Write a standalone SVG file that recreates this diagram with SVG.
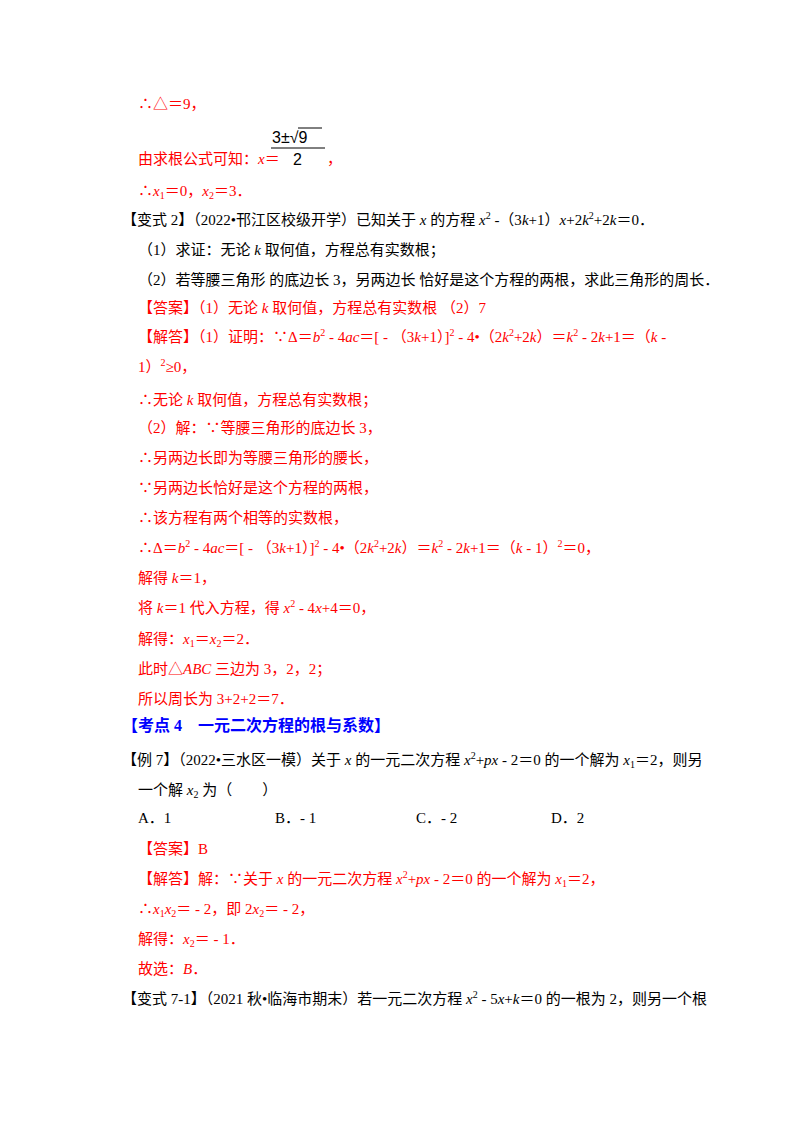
<svg xmlns="http://www.w3.org/2000/svg" width="800" height="1132" viewBox="0 0 800 1132">
<style>
text{font-family:"Liberation Serif","Noto Sans CJK SC",serif;font-size:15px;fill:#000}
.r{fill:#ff0000}
.b{fill:#0000ff;font-weight:bold;font-size:16px}
.i{font-style:italic}
.s{font-size:10px}
.f{font-family:"Liberation Sans",sans-serif;font-size:16px}
</style>
<rect width="800" height="1132" fill="#fff"/>
<text class="r" x="138" y="109">∴△＝9，</text>
<text class="f" x="272" y="143">3±√9</text>
<line x1="271" y1="148" x2="325" y2="148" stroke="#000" stroke-width="1"/>
<line x1="298" y1="128" x2="322" y2="128" stroke="#000" stroke-width="1"/>
<text class="f" x="293" y="165">2</text>
<text class="r" x="138" y="164">由求根公式可知：<tspan class="i">x</tspan>＝</text>
<text class="r" x="327" y="164">，</text>
<text class="r" x="138" y="196">∴<tspan class="i">x</tspan><tspan class="s" dy="3">1</tspan><tspan dy="-3">＝0，</tspan><tspan class="i">x</tspan><tspan class="s" dy="3">2</tspan><tspan dy="-3">＝3．</tspan></text>
<text x="122" y="225">【变式 2】（2022•邗江区校级开学）已知关于 <tspan class="i">x</tspan> 的方程 <tspan class="i">x</tspan><tspan class="s" dy="-6">2</tspan><tspan dy="6"> ‐（3</tspan><tspan class="i">k</tspan>+1）<tspan class="i">x</tspan>+2<tspan class="i">k</tspan><tspan class="s" dy="-6">2</tspan><tspan dy="6">+2</tspan><tspan class="i">k</tspan>＝0．</text>
<text x="138" y="255">（1）求证：无论 <tspan class="i">k</tspan> 取何值，方程总有实数根；</text>
<text x="138" y="285">（2）若等腰三角形  的底边长 3，另两边长  恰好是这个方程的两根，求此三角形的周长．</text>
<text class="r" x="138" y="313">【答案】（1）无论 <tspan class="i">k</tspan> 取何值，方程总有实数根  （2）7</text>
<text class="r" x="138" y="342">【解答】（1）证明：∵Δ＝<tspan class="i">b</tspan><tspan class="s" dy="-6">2</tspan><tspan dy="6"> ‐ 4</tspan><tspan class="i">ac</tspan>＝[ ‐ （3<tspan class="i">k</tspan>+1）]<tspan class="s" dy="-6">2</tspan><tspan dy="6"> ‐ 4•（2</tspan><tspan class="i">k</tspan><tspan class="s" dy="-6">2</tspan><tspan dy="6">+2</tspan><tspan class="i">k</tspan>）＝<tspan class="i">k</tspan><tspan class="s" dy="-6">2</tspan><tspan dy="6"> ‐ 2</tspan><tspan class="i">k</tspan>+1＝（<tspan class="i">k</tspan> ‐</text>
<text class="r" x="138" y="372">1）<tspan class="s" dy="-6">2</tspan><tspan dy="6">≥0，</tspan></text>
<text class="r" x="138" y="405">∴无论 <tspan class="i">k</tspan> 取何值，方程总有实数根；</text>
<text class="r" x="138" y="433">（2）解：∵等腰三角形的底边长 3，</text>
<text class="r" x="138" y="463">∴另两边长即为等腰三角形的腰长，</text>
<text class="r" x="138" y="493">∵另两边长恰好是这个方程的两根，</text>
<text class="r" x="138" y="523">∴该方程有两个相等的实数根，</text>
<text class="r" x="138" y="553">∴Δ＝<tspan class="i">b</tspan><tspan class="s" dy="-6">2</tspan><tspan dy="6"> ‐ 4</tspan><tspan class="i">ac</tspan>＝[ ‐ （3<tspan class="i">k</tspan>+1）]<tspan class="s" dy="-6">2</tspan><tspan dy="6"> ‐ 4•（2</tspan><tspan class="i">k</tspan><tspan class="s" dy="-6">2</tspan><tspan dy="6">+2</tspan><tspan class="i">k</tspan>）＝<tspan class="i">k</tspan><tspan class="s" dy="-6">2</tspan><tspan dy="6"> ‐ 2</tspan><tspan class="i">k</tspan>+1＝（<tspan class="i">k</tspan> ‐ 1）<tspan class="s" dy="-6">2</tspan><tspan dy="6">＝0，</tspan></text>
<text class="r" x="138" y="583">解得 <tspan class="i">k</tspan>＝1，</text>
<text class="r" x="138" y="613">将 <tspan class="i">k</tspan>＝1 代入方程，得 <tspan class="i">x</tspan><tspan class="s" dy="-6">2</tspan><tspan dy="6"> ‐ 4</tspan><tspan class="i">x</tspan>+4＝0，</text>
<text class="r" x="138" y="644">解得：<tspan class="i">x</tspan><tspan class="s" dy="3">1</tspan><tspan dy="-3">＝</tspan><tspan class="i">x</tspan><tspan class="s" dy="3">2</tspan><tspan dy="-3">＝2．</tspan></text>
<text class="r" x="138" y="674">此时△<tspan class="i">ABC</tspan> 三边为 3，2，2；</text>
<text class="r" x="138" y="704">所以周长为 3+2+2＝7．</text>
<text class="b" x="122" y="731">【考点 4　一元二次方程的根与系数】</text>
<text x="122" y="765">【例 7】（2022•三水区一模）关于 <tspan class="i">x</tspan> 的一元二次方程 <tspan class="i">x</tspan><tspan class="s" dy="-6">2</tspan><tspan dy="6">+</tspan><tspan class="i">px</tspan> ‐ 2＝0 的一个解为 <tspan class="i">x</tspan><tspan class="s" dy="3">1</tspan><tspan dy="-3">＝2，则另</tspan></text>
<text x="138" y="795">一个解 <tspan class="i">x</tspan><tspan class="s" dy="3">2</tspan><tspan dy="-3"> 为（　　）</tspan></text>
<text x="138" y="823">A．1</text>
<text x="275" y="823">B．‐ 1</text>
<text x="416" y="823">C．‐ 2</text>
<text x="551" y="823">D．2</text>
<text class="r" x="138" y="854">【答案】B</text>
<text class="r" x="138" y="884">【解答】解：∵关于 <tspan class="i">x</tspan> 的一元二次方程 <tspan class="i">x</tspan><tspan class="s" dy="-6">2</tspan><tspan dy="6">+</tspan><tspan class="i">px</tspan> ‐ 2＝0 的一个解为 <tspan class="i">x</tspan><tspan class="s" dy="3">1</tspan><tspan dy="-3">＝2，</tspan></text>
<text class="r" x="138" y="914">∴<tspan class="i">x</tspan><tspan class="s" dy="3">1</tspan><tspan class="i" dy="-3">x</tspan><tspan class="s" dy="3">2</tspan><tspan dy="-3">＝ ‐ 2，即 2</tspan><tspan class="i">x</tspan><tspan class="s" dy="3">2</tspan><tspan dy="-3">＝ ‐ 2，</tspan></text>
<text class="r" x="138" y="944">解得：<tspan class="i">x</tspan><tspan class="s" dy="3">2</tspan><tspan dy="-3">＝ ‐ 1．</tspan></text>
<text class="r" x="138" y="974">故选：<tspan class="i">B</tspan>．</text>
<text x="122" y="1004">【变式 7-1】（2021 秋•临海市期末）若一元二次方程 <tspan class="i">x</tspan><tspan class="s" dy="-6">2</tspan><tspan dy="6"> ‐ 5</tspan><tspan class="i">x</tspan>+<tspan class="i">k</tspan>＝0 的一根为 2，则另一个根</text>
</svg>
